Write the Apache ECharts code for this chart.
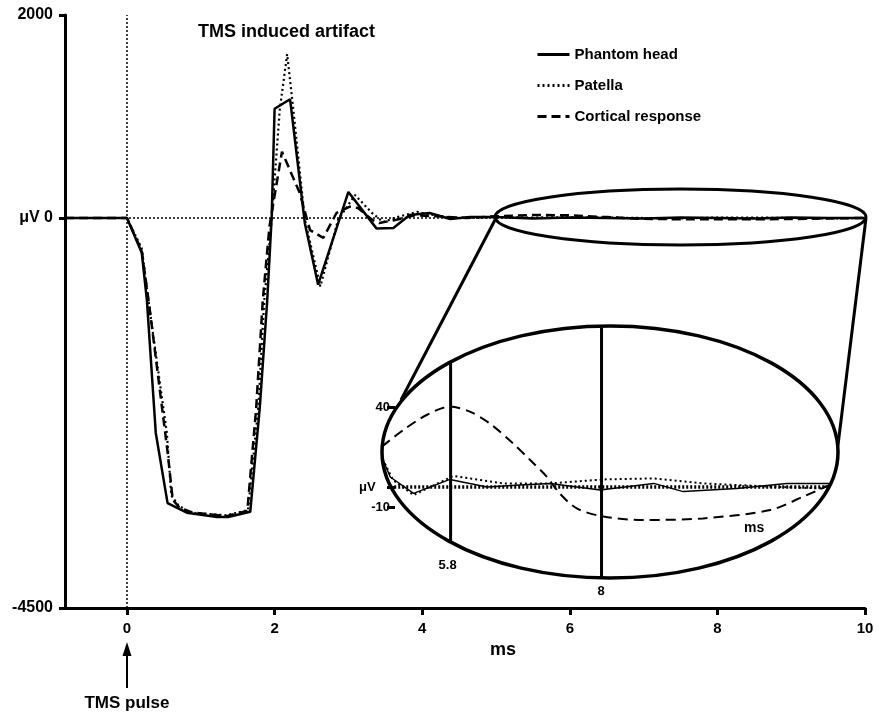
<!DOCTYPE html>
<html><head><meta charset="utf-8">
<script src="https://cdn.jsdelivr.net/npm/echarts@6/dist/echarts.min.js"></script>
<style>html,body{margin:0;padding:0;background:#fff}#c{width:879px;height:715px}</style>
</head><body><div id="c"></div>
<script>
// ---------- data ----------
const seriesNames = ['Phantom head', 'Patella', 'Cortical response'];
const xTicks = [0, 2, 4, 6, 8, 10];
const yTickValues = [-4500, 0, 2342];
const yTickLabels = ['-4500', 'μV 0', '2000'];

const phantomHead = [[-0.84,0],[0,0],[0.2,-400],[0.27,-950],[0.39,-2480],[0.55,-3290],[0.81,-3400],[1.22,-3450],[1.37,-3450],[1.67,-3390],[1.80,-2180],[1.90,-950],[1.96,0],[2.0,1260],[2.21,1370],[2.41,-60],[2.59,-770],[3.0,300],[3.38,-120],[3.61,-115],[3.83,35],[4.1,58],[4.38,-12],[4.65,12],[5.0,12],[5.5,-5],[6,5],[6.5,0],[7,-5],[7.5,5],[8,0],[8.5,-5],[9,5],[9.5,0],[10,0]];
const patella = [[-0.84,0],[0,0],[0.2,-350],[0.29,-950],[0.54,-2480],[0.6,-3200],[0.7,-3320],[0.87,-3400],[1.35,-3430],[1.64,-3370],[1.78,-2180],[1.86,-950],[1.96,-20],[2.07,1250],[2.17,1890],[2.25,1280],[2.41,-20],[2.62,-790],[2.86,-20],[3.09,265],[3.32,58],[3.47,-46],[3.7,20],[3.93,70],[4.1,40],[4.45,0],[5,10],[5.5,5],[6,10],[6.5,5],[7,0],[7.5,-5],[8,5],[8.5,5],[9,0],[9.5,-5],[10,0]];
const cortical = [[-0.84,0],[0,0],[0.2,-380],[0.3,-1000],[0.55,-2700],[0.62,-3250],[0.72,-3350],[0.9,-3400],[1.35,-3440],[1.63,-3380],[1.75,-2200],[1.84,-950],[1.93,-100],[2.1,765],[2.34,290],[2.48,-140],[2.66,-230],[2.84,60],[3.02,130],[3.13,115],[3.32,-20],[3.42,-58],[3.65,-20],[3.9,30],[4.2,20],[4.6,0],[5,20],[5.5,35],[6,30],[6.5,10],[7,-10],[7.5,-15],[8,-15],[8.5,-15],[9,-12],[9.5,-5],[10,0]];

// magnified inset (5-10 ms window)
const insetTicks = [-10, 0, 40];
const insetTickLabels = ['-10', 'μV    ', '40'];
const insetPhantom = [[4.81,14],[4.92,5],[5.26,-3.2],[5.79,3.8],[6.33,0],[6.81,1],[7.25,1.8],[7.98,-1.5],[8.76,1.8],[9.19,-2.3],[9.97,-0.7],[10.70,1.8],[11.33,1.8]];
const insetPatella = [[4.81,14],[4.96,3.5],[5.26,-4],[5.84,5.5],[6.57,1.8],[7.25,1.8],[8.03,3.8],[8.76,4.3],[9.48,1.8],[10.46,0.2],[11.19,-0.7],[11.38,1.8]];
const insetCortical = [[4.80,20.2],[5.11,28.5],[5.45,36],[5.79,40.2],[6.08,37.7],[6.37,31.8],[6.71,21.8],[6.96,13.5],[7.20,5.2],[7.39,-3.2],[7.64,-10.7],[8.03,-14.8],[8.61,-16.5],[9.48,-15.7],[10.46,-11.5],[10.94,-4.8],[11.38,1.8]];
const insetZero = [[4.92,0],[11.33,0]];
const marker58 = [[5.8,62],[5.8,-27]];
const marker8 = [[8,79.5],[8,-45.5]];
const markerLabels = ['5.8', '8'];

// ---------- chart ----------
const F = 'Arial, "Liberation Sans", Helvetica, sans-serif';
const chart = echarts.init(document.getElementById('c'));
const dotMain = [2, 3];
const dashMain = [9, 5];

const option = {
  animation: false,
  backgroundColor: '#fff',
  title: {
    text: 'TMS induced artifact', left: 193, top: 18,
    textStyle: {fontFamily: F, fontSize: 18, fontWeight: 'bold', color: '#000'}
  },
  legend: {
    data: seriesNames, orient: 'vertical', left: 531, top: 42,
    itemWidth: 32, itemHeight: 14, itemGap: 16,
    itemStyle: {opacity: 0},
    lineStyle: {width: 3},
    textStyle: {fontFamily: F, fontSize: 15, fontWeight: 'bold', color: '#000'},
    selectedMode: false
  },
  grid: [
    {left: 65, right: 14, top: 15, bottom: 107},
    {left: 382, top: 327, width: 451, height: 251}
  ],
  xAxis: [
    {
      gridIndex: 0, type: 'value', min: -0.84, max: 10,
      axisLine: {show: true, onZero: false, lineStyle: {color: '#000', width: 3}},
      axisTick: {show: true, length: 7, lineStyle: {color: '#000', width: 3}, customValues: xTicks},
      axisLabel: {fontFamily: F, fontSize: 15, fontWeight: 'bold', color: '#000', margin: 13, customValues: xTicks},
      splitLine: {show: false},
      name: 'ms', nameLocation: 'middle', nameGap: 33,
      nameTextStyle: {fontFamily: F, fontSize: 18, fontWeight: 'bold', color: '#000', padding: [0, 0, 0, 76]}
    },
    {
      gridIndex: 1, type: 'value', min: 4.8, max: 11.374, show: false
    }
  ],
  yAxis: [
    {
      gridIndex: 0, type: 'value', min: -4500, max: 2342,
      axisLine: {show: true, onZero: false, lineStyle: {color: '#000', width: 3}},
      axisTick: {show: true, length: 6, lineStyle: {color: '#000', width: 3}, customValues: yTickValues},
      axisLabel: {
        fontFamily: F, fontSize: 16, fontWeight: 'bold', color: '#000', margin: 12,
        customValues: yTickValues,
        formatter: v => yTickLabels[yTickValues.indexOf(v)] ?? ''
      },
      splitLine: {show: false}
    },
    {
      gridIndex: 1, type: 'value', min: -45.5, max: 80, offset: -13,
      axisLine: {show: false, onZero: false},
      axisTick: {show: true, length: 8, lineStyle: {color: '#000', width: 3}, customValues: insetTicks},
      axisLabel: {
        fontFamily: F, fontSize: 13, fontWeight: 'bold', color: '#000', margin: 5,
        customValues: insetTicks,
        formatter: v => insetTickLabels[insetTicks.indexOf(v)] ?? ''
      },
      splitLine: {show: false}
    }
  ],
  series: [
    {
      name: seriesNames[0], type: 'line', xAxisIndex: 0, yAxisIndex: 0, data: phantomHead,
      symbol: 'none', lineStyle: {color: '#000', width: 2.5, type: 'solid'}, itemStyle: {color: '#000'}, z: 5,
      markLine: {
        silent: true, symbol: 'none', label: {show: false},
        lineStyle: {color: '#000', width: 1.5, type: [2, 2]},
        data: [{xAxis: 0}, {yAxis: 0}]
      }
    },
    {
      name: seriesNames[1], type: 'line', xAxisIndex: 0, yAxisIndex: 0, data: patella,
      symbol: 'none', lineStyle: {color: '#000', width: 2.2, type: dotMain}, itemStyle: {color: '#000'}, z: 4
    },
    {
      name: seriesNames[2], type: 'line', xAxisIndex: 0, yAxisIndex: 0, data: cortical,
      symbol: 'none', lineStyle: {color: '#000', width: 2.5, type: dashMain}, itemStyle: {color: '#000'}, z: 4
    },
    {
      name: 'inset zero', type: 'line', xAxisIndex: 1, yAxisIndex: 1, data: insetZero,
      symbol: 'none', lineStyle: {color: '#000', width: 3.5, type: [2, 2]}, z: 3
    },
    {
      name: 'inset phantom', type: 'line', xAxisIndex: 1, yAxisIndex: 1, data: insetPhantom,
      symbol: 'none', lineStyle: {color: '#000', width: 1.5, type: 'solid'}, z: 5
    },
    {
      name: 'inset patella', type: 'line', xAxisIndex: 1, yAxisIndex: 1, data: insetPatella,
      symbol: 'none', lineStyle: {color: '#000', width: 2, type: [2, 3]}, z: 5
    },
    {
      name: 'inset cortical', type: 'line', xAxisIndex: 1, yAxisIndex: 1, data: insetCortical, smooth: 0.3,
      symbol: 'none', lineStyle: {color: '#000', width: 2, type: [10, 6]}, z: 5
    },
    {
      name: 'marker 5.8', type: 'line', xAxisIndex: 1, yAxisIndex: 1, data: marker58,
      symbol: 'none', lineStyle: {color: '#000', width: 3}, z: 6,
      endLabel: {show: true, formatter: markerLabels[0], fontFamily: F, fontSize: 13, fontWeight: 'bold', color: '#000', offset: [-20, 24]}
    },
    {
      name: 'marker 8', type: 'line', xAxisIndex: 1, yAxisIndex: 1, data: marker8,
      symbol: 'none', lineStyle: {color: '#000', width: 3}, z: 6,
      endLabel: {show: true, formatter: markerLabels[1], fontFamily: F, fontSize: 13, fontWeight: 'bold', color: '#000', offset: [-12, 13]}
    }
  ]
};
chart.setOption(option);

// ---------- decorations: magnification ellipses, zoom lines, TMS pulse arrow ----------
const p5 = chart.convertToPixel({xAxisIndex: 0, yAxisIndex: 0}, [5, 0]);
const p10 = chart.convertToPixel({xAxisIndex: 0, yAxisIndex: 0}, [10, 0]);
const p0 = chart.convertToPixel({xAxisIndex: 0, yAxisIndex: 0}, [0, 0]);
const big = {cx: 610, cy: 452, rx: 228, ry: 126};
const stroke = {stroke: '#000', lineWidth: 3, fill: null};

chart.setOption({
  graphic: [
    {type: 'ellipse', shape: {cx: (p5[0] + p10[0]) / 2, cy: p5[1] - 1, rx: (p10[0] - p5[0]) / 2 + 1, ry: 28}, style: stroke, z: 10, silent: true},
    {type: 'line', shape: {x1: p5[0], y1: p5[1], x2: 401, y2: 400}, style: {stroke: '#000', lineWidth: 3}, z: 10, silent: true},
    {type: 'line', shape: {x1: p10[0] + 1, y1: p10[1], x2: 838, y2: 445}, style: {stroke: '#000', lineWidth: 3}, z: 10, silent: true},
    {type: 'ellipse', shape: big, style: {stroke: '#000', lineWidth: 3.5, fill: null}, z: 10, silent: true},
    {type: 'text', left: 744, top: 521, style: {text: 'ms', font: 'bold 14px ' + F, fill: '#000'}, z: 10},
    {type: 'line', shape: {x1: p0[0], y1: 688, x2: p0[0], y2: 652}, style: {stroke: '#000', lineWidth: 2}, z: 10},
    {type: 'polygon', shape: {points: [[p0[0], 642], [p0[0] - 4.5, 656], [p0[0] + 4.5, 656]]}, style: {fill: '#000'}, z: 10},
    {type: 'text', x: p0[0], y: 703, style: {text: 'TMS pulse', font: 'bold 17px ' + F, fill: '#000', align: 'center', verticalAlign: 'middle'}, z: 10}
  ]
});
</script>
</body></html>
